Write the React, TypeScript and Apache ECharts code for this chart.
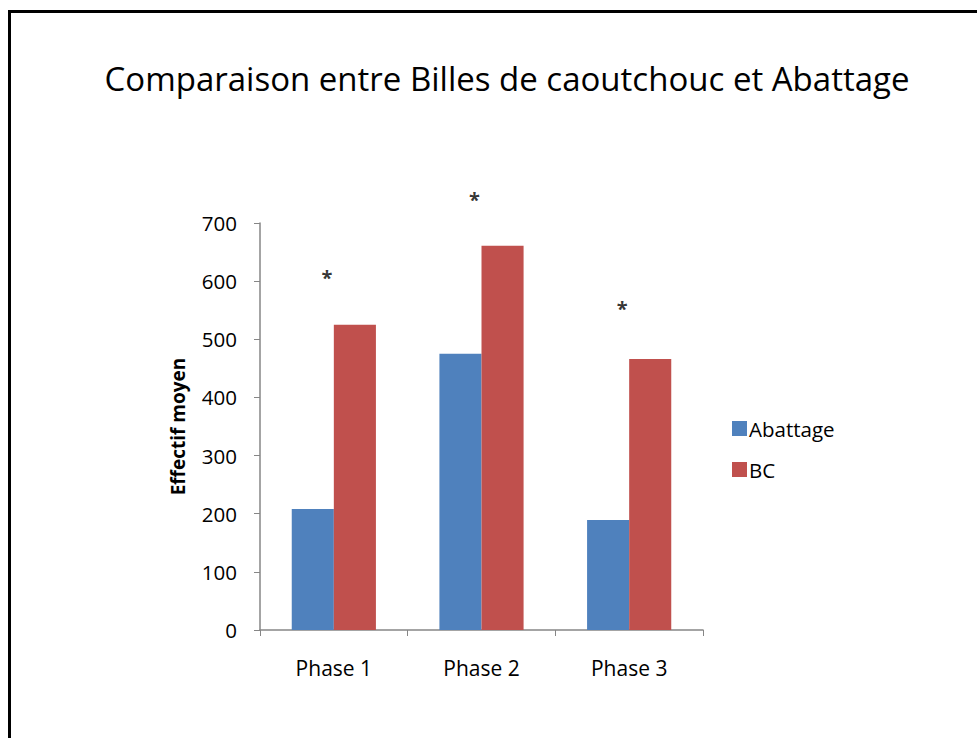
import React, { useEffect, useRef } from "react";
import * as echarts from "echarts";

const categories = ["Phase 1", "Phase 2", "Phase 3"];
const abattage = [208, 475, 189];
const bc = [525, 661, 466];
const starValues = [614, 747, 559];
const yTicks = [0, 100, 200, 300, 400, 500, 600, 700];

export default function App() {
  const ref = useRef<HTMLDivElement>(null);
  useEffect(() => {
    document.body.style.margin = "0";
    const chart = echarts.init(ref.current!, null, { renderer: "svg" });
    const font = "'Open Sans', 'Liberation Sans', sans-serif";
    chart.setOption({
      animation: false,
      backgroundColor: "#ffffff",
      title: {
        text: "Comparaison entre Billes de caoutchouc et Abattage",
        left: 502,
        textAlign: "center",
        top: 57,
        textStyle: { fontFamily: font, fontSize: 33, fontWeight: "normal", color: "#000" },
      },
      legend: {
        orient: "vertical",
        left: 727,
        top: 413,
        itemWidth: 15,
        itemHeight: 15,
        itemGap: 20,
        icon: "rect",
        data: ["Abattage", "BC"],
        textStyle: { fontFamily: font, fontSize: 20.5, lineHeight: 20, color: "#000", padding: [0, 0, 0, -3] },
      },
      grid: { left: 260, top: 223, right: 274, bottom: 108, containLabel: false },
      xAxis: {
        type: "category",
        data: categories,
        axisLine: { lineStyle: { color: "#868686", width: 1.5 } },
        axisTick: { show: true, length: 6, alignWithLabel: false, lineStyle: { color: "#868686" } },
        axisLabel: { fontFamily: font, fontSize: 21, color: "#000", margin: 27 },
      },
      yAxis: {
        type: "value",
        min: 0,
        max: 700,
        interval: 100,
        name: "Effectif moyen",
        nameLocation: "middle",
        nameGap: 73,
        nameTextStyle: { fontFamily: font, fontSize: 19, fontWeight: "bold", color: "#000" },
        axisLine: { show: true, lineStyle: { color: "#868686", width: 1.5 } },
        axisTick: { show: true, length: 6, lineStyle: { color: "#868686" } },
        splitLine: { show: false },
        axisLabel: {
          fontFamily: font,
          fontSize: 20.5,
          color: "#000",
          margin: 23,
          formatter: (v: number) => (yTicks.includes(v) ? String(v) : ""),
        },
      },
      series: [
        {
          name: "Abattage",
          type: "bar",
          data: abattage,
          barGap: "0%",
          barCategoryGap: "43%",
          itemStyle: { color: "#4F81BD" },
        },
        {
          name: "BC",
          type: "bar",
          data: bc,
          itemStyle: { color: "#C0504D" },
        },
        {
          name: "sig",
          type: "scatter",
          data: starValues,
          symbolSize: 1,
          clip: false,
          itemStyle: { color: "transparent" },
          label: {
            show: true,
            formatter: "*",
            position: "inside",
            offset: [-7, 4],
            fontFamily: font,
            fontSize: 20,
            fontWeight: "bold",
            color: "#000",
          },
          silent: true,
        },
      ],
      graphic: [
        { type: "line", shape: { x1: 9.5, y1: 10, x2: 9.5, y2: 738 }, style: { stroke: "#000", lineWidth: 3 } },
        { type: "line", shape: { x1: 8, y1: 11.5, x2: 977, y2: 11.5 }, style: { stroke: "#000", lineWidth: 3 } },
      ],
    });
    return () => chart.dispose();
  }, []);
  return <div ref={ref} style={{ position: "absolute", left: 0, top: 0, width: 977, height: 738 }} />;
}
